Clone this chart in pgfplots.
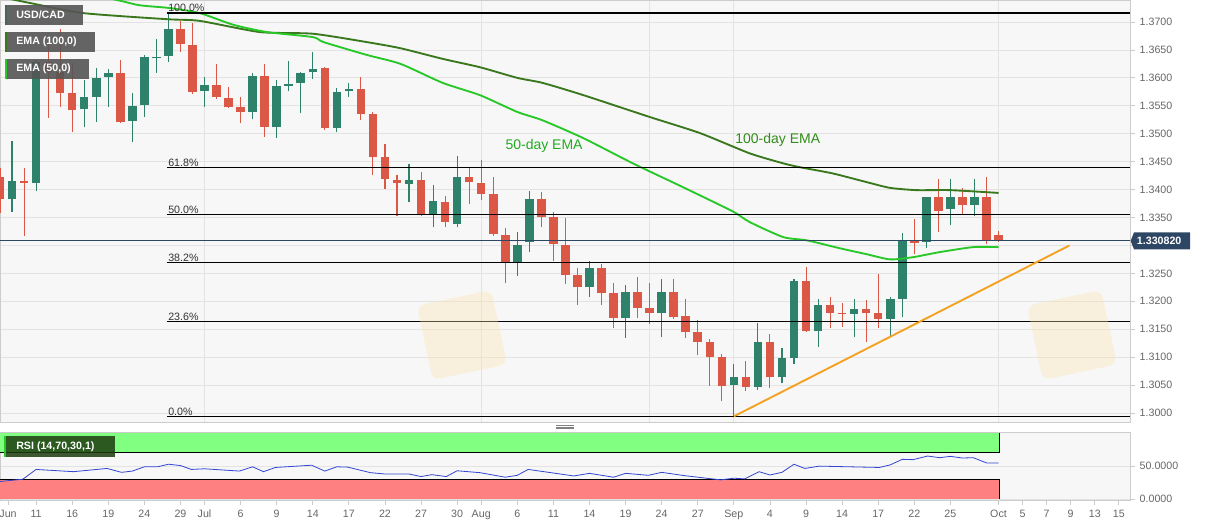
\documentclass[border=0pt]{standalone}
\usepackage{pgfplots}
\usepackage{pgfplotstable}
\usepackage{fontspec}
\setmainfont{Liberation Sans}
\pgfplotsset{compat=1.18}

\definecolor{bgc}{HTML}{F7F7F7}
\definecolor{gridc}{HTML}{E3E3E3}
\definecolor{axc}{HTML}{CCCCCC}
\definecolor{tickc}{HTML}{666666}
\definecolor{upc}{RGB}{46,130,108}
\definecolor{downc}{RGB}{220,88,70}
\definecolor{emaslow}{RGB}{58,120,30}
\definecolor{emafast}{RGB}{40,200,40}
\definecolor{trendc}{RGB}{245,160,30}
\definecolor{pricec}{RGB}{45,70,100}
\definecolor{rsig}{RGB}{128,255,128}
\definecolor{rsir}{RGB}{255,128,128}
\definecolor{rsil}{RGB}{50,70,210}
\definecolor{boxc}{RGB}{85,85,85}
\definecolor{logoc}{RGB}{250,228,170}

% daily candles, i = trading day from 8 Jun 2020
\pgfplotstableread{
i  o      h      l      c
1  1.3383 1.3487 1.3360 1.3415
3  1.3412 1.3632 1.3397 1.3629
7  1.3544 1.3596 1.3512 1.3566
8  1.3566 1.3618 1.3521 1.3600
9  1.3601 1.3616 1.3548 1.3609
11 1.3523 1.3573 1.3485 1.3550
12 1.3551 1.3641 1.3530 1.3637
13 1.3636 1.3670 1.3609 1.3638
14 1.3639 1.3716 1.3628 1.3687
17 1.3576 1.3601 1.3548 1.3587
21 1.3539 1.3609 1.3526 1.3603
23 1.3512 1.3596 1.3492 1.3585
24 1.3585 1.3630 1.3576 1.3589
25 1.3591 1.3610 1.3537 1.3609
26 1.3610 1.3646 1.3598 1.3616
28 1.3510 1.3582 1.3503 1.3575
29 1.3576 1.3591 1.3566 1.3580
34 1.3410 1.3446 1.3378 1.3417
36 1.3356 1.3408 1.3333 1.3379
38 1.3338 1.3460 1.3333 1.3422
43 1.3268 1.3324 1.3245 1.3300
44 1.3306 1.3397 1.3288 1.3383
49 1.3225 1.3272 1.3207 1.3259
52 1.3170 1.3229 1.3134 1.3216
55 1.3179 1.3240 1.3136 1.3216
61 1.3050 1.3087 1.2994 1.3064
63 1.3046 1.3161 1.3041 1.3127
65 1.3064 1.3116 1.3053 1.3098
66 1.3098 1.3240 1.3087 1.3236
68 1.3146 1.3204 1.3119 1.3193
71 1.3177 1.3204 1.3136 1.3186
74 1.3168 1.3207 1.3137 1.3205
75 1.3205 1.3322 1.3171 1.3308
77 1.3306 1.3386 1.3295 1.3386
79 1.3365 1.3419 1.3336 1.3386
81 1.3372 1.3419 1.3352 1.3386
}\uptab

\pgfplotstableread{
i  o      h      l      c
0  1.3422 1.3438 1.3358 1.3383
2  1.3415 1.3438 1.3317 1.3412
4  1.3628 1.3662 1.3528 1.3610
5  1.3610 1.3687 1.3548 1.3573
6  1.3573 1.3627 1.3503 1.3542
10 1.3609 1.3632 1.3519 1.3521
15 1.3687 1.3702 1.3646 1.3661
16 1.3659 1.3698 1.3571 1.3575
18 1.3587 1.3625 1.3562 1.3566
19 1.3564 1.3584 1.3546 1.3548
20 1.3548 1.3566 1.3519 1.3539
22 1.3603 1.3625 1.3494 1.3512
27 1.3618 1.3619 1.3507 1.3510
30 1.3580 1.3601 1.3524 1.3535
31 1.3535 1.3539 1.3426 1.3458
32 1.3458 1.3481 1.3401 1.3419
33 1.3417 1.3426 1.3352 1.3412
35 1.3417 1.3431 1.3352 1.3356
37 1.3378 1.3388 1.3333 1.3342
39 1.3422 1.3440 1.3374 1.3413
40 1.3412 1.3453 1.3381 1.3392
41 1.3392 1.3422 1.3317 1.3320
42 1.3318 1.3331 1.3232 1.3268
45 1.3383 1.3395 1.3333 1.3351
46 1.3351 1.3360 1.3272 1.3302
47 1.3300 1.3349 1.3231 1.3247
48 1.3247 1.3259 1.3193 1.3225
50 1.3259 1.3266 1.3193 1.3214
51 1.3214 1.3232 1.3152 1.3170
53 1.3216 1.3243 1.3170 1.3188
54 1.3188 1.3232 1.3159 1.3179
56 1.3216 1.3240 1.3168 1.3171
57 1.3173 1.3205 1.3134 1.3145
58 1.3145 1.3166 1.3103 1.3128
59 1.3127 1.3132 1.3048 1.3100
60 1.3100 1.3105 1.3021 1.3048
62 1.3064 1.3094 1.3039 1.3046
64 1.3127 1.3141 1.3044 1.3064
67 1.3236 1.3261 1.3145 1.3146
69 1.3193 1.3207 1.3152 1.3179
70 1.3179 1.3197 1.3154 1.3177
72 1.3186 1.3202 1.3128 1.3179
73 1.3179 1.3249 1.3152 1.3168
76 1.3308 1.3347 1.3284 1.3304
78 1.3386 1.3419 1.3324 1.3361
80 1.3386 1.3403 1.3356 1.3372
82 1.3386 1.3422 1.3302 1.3308
83 1.3318 1.3326 1.3306 1.3308
}\downtab

\pgfplotsset{
  tickfont/.style={font=\fontsize{8}{9.6}\selectfont, text=tickc},
  wick/.style={draw=none, mark=none, forget plot,
    error bars/.cd, y dir=plus, y explicit, error mark=none,
    error bar style={draw=#1, line width=0.8pt}},
  body/.style={draw=none, mark=none, forget plot,
    error bars/.cd, y dir=plus, y explicit, error mark=none,
    error bar style={draw=#1, line width=6.4pt}},
}

\begin{document}
\begin{tikzpicture}
\useasboundingbox (0,0) rectangle (905.25pt,394.5pt);

% price panel
\begin{axis}[
    at={(0pt,78pt)}, anchor=south west,
    scale only axis, width=847.5pt, height=316.5pt,
    xmin=0, xmax=93.93, ymin=1.29839, ymax=1.37394,
    axis background/.style={fill=bgc},
    axis line style={draw=axc},
    ytick={1.3000,1.3050,1.3100,1.3150,1.3200,1.3250,1.3300,1.3350,1.3400,1.3450,1.3500,1.3550,1.3600,1.3650,1.3700},
    % 1.3300 sits under the last-price box
    yticklabels={1.3000,1.3050,1.3100,1.3150,1.3200,1.3250,,1.3350,1.3400,1.3450,1.3500,1.3550,1.3600,1.3650,1.3700},
    ytick pos=right, yticklabel pos=right,
    tick align=outside, major tick length=3.75pt,
    y tick style={draw=axc, line width=0.6pt},
    yticklabel style={tickfont},
    xtick={17,40,54,61,83}, xticklabels={},
    x tick style={draw=none},
    xmajorgrids, ymajorgrids,
    grid style={draw=gridc, line width=0.6pt},
]
\addplot[wick=downc] table[x=i, y=l, y error plus expr=\thisrow{h}-\thisrow{l}] \downtab;
\addplot[wick=upc] table[x=i, y=l, y error plus expr=\thisrow{h}-\thisrow{l}] \uptab;
\addplot[body=downc] table[x=i, y=c, y error plus expr=\thisrow{o}-\thisrow{c}] \downtab;
\addplot[body=upc] table[x=i, y=o, y error plus expr=\thisrow{c}-\thisrow{o}] \uptab;

% EMA 100
\addplot[emaslow, line width=1.4pt, smooth, tension=0.4] coordinates {
 (0,1.3745) (2.5,1.3734) (6.9,1.3716) (13.9,1.3705) (16.6,1.3702) (21.6,1.3682)
 (26.0,1.3679) (30.5,1.3664) (33.3,1.3653) (36.8,1.3634) (39.9,1.3619) (43.0,1.3600)
 (45.1,1.3591) (48.5,1.3569) (54.0,1.3530) (58.2,1.3501) (62.3,1.3465) (65.1,1.3447)
 (66.5,1.3440) (69.2,1.3429) (72.1,1.3413) (74.0,1.3403) (76.2,1.3399) (79.0,1.3399)
 (83.0,1.3394)};
% EMA 50
\addplot[emafast, line width=1.4pt, smooth, tension=0.4] coordinates {
 (0,1.3793) (5.0,1.3761) (9.8,1.3739) (11.6,1.3730) (14.1,1.3725) (16.6,1.3716)
 (19.4,1.3695) (22.2,1.3682) (26.0,1.3673) (26.9,1.3664) (30.5,1.3641) (33.3,1.3625)
 (36.8,1.3591) (39.9,1.3569) (43.0,1.3539) (45.1,1.3524) (48.5,1.3492) (52.6,1.3447)
 (56.8,1.3404) (60.9,1.3361) (62.3,1.3342) (65.1,1.3315) (67.1,1.3309) (69.8,1.3295)
 (72.1,1.3284) (74.0,1.3275) (75.9,1.3279) (78.1,1.3288) (80.9,1.3297) (83.0,1.3297)};

% Fibonacci levels
\addplot[black, line width=0.9pt] coordinates {(13.9,1.3716) (93.93,1.3716)};
\addplot[black, line width=0.9pt] coordinates {(13.9,1.3440) (93.93,1.3440)};
\addplot[black, line width=0.9pt] coordinates {(13.9,1.3355) (93.93,1.3355)};
\addplot[black, line width=0.9pt] coordinates {(13.9,1.3270) (93.93,1.3270)};
\addplot[black, line width=0.9pt] coordinates {(13.9,1.3164) (93.93,1.3164)};
\addplot[black, line width=0.9pt] coordinates {(13.9,1.2994) (93.93,1.2994)};

% last price
\addplot[pricec, line width=0.7pt] coordinates {(0,1.33082) (93.93,1.33082)};
% support line
\addplot[trendc, line width=1.4pt] coordinates {(61,1.2994) (88.9,1.3300)};

\begin{scope}[every node/.style={anchor=south west, inner sep=0.6pt, font=\fontsize{8}{9.6}\selectfont, text=black!80}]
\node at (axis cs:13.9,1.3716) {100.0\%};
\node at (axis cs:13.9,1.3440) {61.8\%};
\node at (axis cs:13.9,1.3355) {50.0\%};
\node at (axis cs:13.9,1.3270) {38.2\%};
\node at (axis cs:13.9,1.3164) {23.6\%};
\node at (axis cs:13.9,1.2994) {0.0\%};
\end{scope}
\node[anchor=west, inner sep=0pt, text=emafast!85!black, font=\fontsize{10.5}{12}\selectfont] at (axis cs:42.0,1.3478) {50-day EMA};
\node[anchor=west, inner sep=0pt, text=emaslow!85!green, font=\fontsize{10.5}{12}\selectfont] at (axis cs:61.1,1.3489) {100-day EMA};
\coordinate (plast) at (axis cs:93.93,1.33082);
\end{axis}

% RSI panel
\begin{axis}[
    at={(0pt,19.5pt)}, anchor=south west,
    scale only axis, width=847.5pt, height=51pt,
    xmin=0, xmax=93.93, ymin=-1.5, ymax=101.5,
    axis background/.style={fill=bgc},
    axis line style={draw=axc},
    ytick={0,50}, ytick pos=right, yticklabel pos=right,
    tick align=outside, major tick length=3.75pt,
    tick style={draw=axc, line width=0.6pt},
    yticklabel style={tickfont, /pgf/number format/.cd, fixed, fixed zerofill, precision=4, assume math mode=true},
    xtick={0.67,3,6,9,12,15,17,20,23,26,29,32,35,38,40,43,46,49,52,55,58,61,64,67,70,73,76,79,83,85,87,89,91,93},
    xticklabels={Jun,11,16,19,24,29,Jul,6,9,14,17,22,27,30,Aug,6,11,14,19,24,27,Sep,4,9,14,17,22,25,Oct,5,7,9,13,15},
    xtick pos=bottom,
    xticklabel style={tickfont},
    ymajorgrids,
    grid style={draw=gridc, line width=0.6pt},
]
\fill[rsig] (axis cs:0,70) rectangle (axis cs:83.04,100);
\fill[rsir] (axis cs:0,0) rectangle (axis cs:83.04,30);
\draw[black, line width=0.7pt] (axis cs:0,70) -- (axis cs:83.04,70) -- (axis cs:83.04,100);
\draw[black, line width=0.7pt] (axis cs:0,30) -- (axis cs:83.04,30) -- (axis cs:83.04,0);
\addplot[rsil, line width=0.6pt] coordinates {
 (0,26.5) (1.9,30) (3.0,44.8) (6.1,41.4) (8.9,46.3) (10.1,40.4) (11.0,42.3) (12.0,48.8)
 (13.1,48.8) (14.0,52.7) (15.0,50.7) (15.9,44.8) (17.0,45.8) (19.9,42.3) (21.0,48.8)
 (21.9,41.4) (22.9,47.8) (25.9,51.2) (27.0,42.3) (28.0,48.8) (28.9,48.3) (30.8,39.9)
 (32.0,37.9) (34.0,37.9) (35.0,34) (35.9,36.9) (37.1,34) (38.0,42.8) (39.9,39.9)
 (42.0,33) (43.0,35.9) (43.9,44.8) (45.8,39.9) (47.7,34.9) (49.0,38.9) (51.0,33)
 (52.0,38.9) (53.9,35.9) (55.0,40.4) (56.9,35.4) (59.9,29) (61.0,31.5) (61.9,30.5)
 (63.1,41.4) (64.0,36.4) (65.0,40.4) (66.0,52.7) (66.9,46.3) (68.1,49.8) (73.1,47.8)
 (74.0,51.7) (75.0,60.1) (75.9,59.6) (77.1,65.1) (78.1,62.6) (79.0,64.6) (80.0,62.1)
 (80.9,62.6) (82.0,54.7) (83.0,54.7)};
\end{axis}

% overlays in pixel units, origin at top left
\begin{scope}[x=0.75pt, y=-0.75pt, shift={(0pt,394.5pt)},
  lab/.style={anchor=west, inner sep=0pt, text=white, font=\bfseries\fontsize{8}{9.6}\selectfont}]
% faint watermark logos
\fill[logoc, opacity=0.35, rounded corners=6pt, rotate around={12:(462,335)}] (424,297) rectangle (500,373);
\fill[logoc, opacity=0.35, rounded corners=6pt, rotate around={12:(1072,335)}] (1034,297) rectangle (1110,373);
% legend boxes
\fill[boxc, opacity=0.9] (5,5) rectangle (83,25);
\fill[boxc!70!upc] (5,5) rectangle (7,25);
\node[lab] at (16,15) {USD/CAD};
\fill[boxc, opacity=0.9] (5,32) rectangle (95,52);
\fill[emaslow] (5,32) rectangle (7,52);
\node[lab] at (16,42) {EMA (100,0)};
\fill[boxc, opacity=0.9] (5,59) rectangle (89,79);
\fill[emafast] (5,59) rectangle (7,79);
\node[lab] at (16,69) {EMA (50,0)};
\fill[black!50!emaslow, opacity=0.85] (4,436) rectangle (115,457);
\fill[emafast] (4,436) rectangle (6,457);
\node[lab] at (16,446.5) {RSI (14,70,30,1)};
\foreach \yy in {425.5,427,428.5} \draw[gray, line width=0.5pt] (556,\yy) -- (574,\yy);
\end{scope}

\fill[pricec] ([xshift=0.5pt]plast) -- ++(2.5pt,-6.4pt) -- ++(42pt,0) -- ++(0,12.8pt) -- ++(-42pt,0) -- cycle;
\node[anchor=west, inner sep=0pt, text=white, font=\bfseries\fontsize{8}{9.6}\selectfont] at ([xshift=5pt]plast) {1.330820};
\end{tikzpicture}
\end{document}
